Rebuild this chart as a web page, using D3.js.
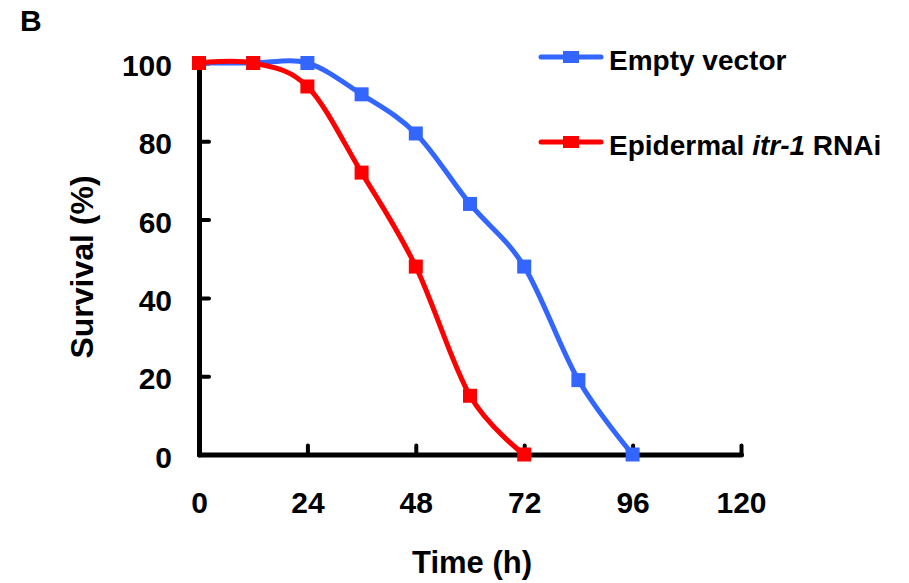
<!DOCTYPE html>
<html>
<head>
<meta charset="utf-8">
<script src="https://cdn.jsdelivr.net/npm/d3@7"></script>
<style>
  html, body { margin: 0; padding: 0; background: #fff; }
  svg { display: block; font-family: "Liberation Sans", Arial, sans-serif; font-weight: bold; }
</style>
</head>
<body>
<svg id="chart" width="909" height="583"></svg>
<script>
// ---- data ----
const timesEmpty = [0, 12, 24, 36, 48, 60, 72, 84, 96];
const survivalEmpty = [100, 100, 100, 92, 82, 64, 48, 19, 0];
const timesRNAi = [0, 12, 24, 36, 48, 60, 72];
const survivalRNAi = [100, 100, 94, 72, 48, 15, 0];
const xTicks = [0, 24, 48, 72, 96, 120];
const yTicks = [0, 20, 40, 60, 80, 100];
const seriesNames = ["Empty vector", "Epidermal itr-1 RNAi"];
const colors = ["#3366ff", "#ff0000"];

const svg = d3.select("#chart");
const x = d3.scaleLinear().domain([0, 120]).range([199, 741]);
const y = d3.scaleLinear().domain([0, 100]).range([454.5, 63]);

// panel label
svg.append("text").attr("x", 20).attr("y", 31).attr("font-size", 30).text("B");

// axes
const xAxis = d3.axisBottom(x).tickValues(xTicks).tickFormat(d3.format("d"))
  .tickSizeInner(-9).tickSizeOuter(0);
const gx = svg.append("g").attr("transform", `translate(0,${y(0)})`).call(xAxis);
const yAxis = d3.axisLeft(y).tickValues(yTicks).tickFormat(d3.format("d"))
  .tickSizeInner(-10).tickSizeOuter(0);
const gy = svg.append("g").attr("transform", `translate(${x(0)},0)`).call(yAxis);

[gx, gy].forEach(g => {
  g.select(".domain").attr("stroke", "#000").attr("stroke-width", 5).attr("stroke-linecap", "round");
  g.selectAll(".tick line").attr("stroke", "#000").attr("stroke-width", 4).attr("stroke-linecap", "round");
  g.selectAll(".tick text").attr("fill", "#000").attr("font-size", 30)
    .attr("font-family", "'Liberation Sans', Arial, sans-serif").attr("font-weight", "bold");
});
gx.selectAll(".tick text").attr("y", 58.5).attr("dy", 0);
gy.selectAll(".tick text").attr("x", -27).attr("dy", "0.42em");

// axis titles
svg.append("text").attr("x", 472).attr("y", 573).attr("text-anchor", "middle")
  .attr("font-size", 31).text("Time (h)");
svg.append("text").attr("transform", "translate(93,267) rotate(-90)")
  .attr("text-anchor", "middle").attr("font-size", 32).text("Survival (%)");

// series
const series = [
  { t: timesEmpty, v: survivalEmpty, color: colors[0] },
  { t: timesRNAi, v: survivalRNAi, color: colors[1] }
];
const line = d3.line().x(d => x(d[0])).y(d => y(d[1])).curve(d3.curveCardinal.tension(0));
const ms = 14;
series.forEach(s => {
  const pts = s.t.map((t, i) => [t, s.v[i]]);
  svg.append("path").datum(pts).attr("d", line).attr("fill", "none")
    .attr("stroke", s.color).attr("stroke-width", 5).attr("stroke-linejoin", "round");
  svg.append("g").selectAll("rect").data(pts).join("rect")
    .attr("x", d => x(d[0]) - ms / 2).attr("y", d => y(d[1]) - ms / 2)
    .attr("width", ms).attr("height", ms).attr("fill", s.color);
});

// legend
const legY = [57, 142];
seriesNames.forEach((name, i) => {
  const g = svg.append("g");
  g.append("line").attr("x1", 541).attr("x2", 601).attr("y1", legY[i]).attr("y2", legY[i])
    .attr("stroke", colors[i]).attr("stroke-width", 5).attr("stroke-linecap", "round");
  g.append("rect").attr("x", 571 - 8).attr("y", legY[i] - 6).attr("width", 16).attr("height", 12)
    .attr("fill", colors[i]);
  const txt = g.append("text").attr("x", 609).attr("y", legY[i] + 12.5).attr("font-size", 28);
  if (i === 0) {
    txt.text(name);
  } else {
    txt.append("tspan").text("Epidermal ");
    txt.append("tspan").attr("font-style", "italic").text("itr-1");
    txt.append("tspan").text(" RNAi");
  }
});
</script>
</body>
</html>
